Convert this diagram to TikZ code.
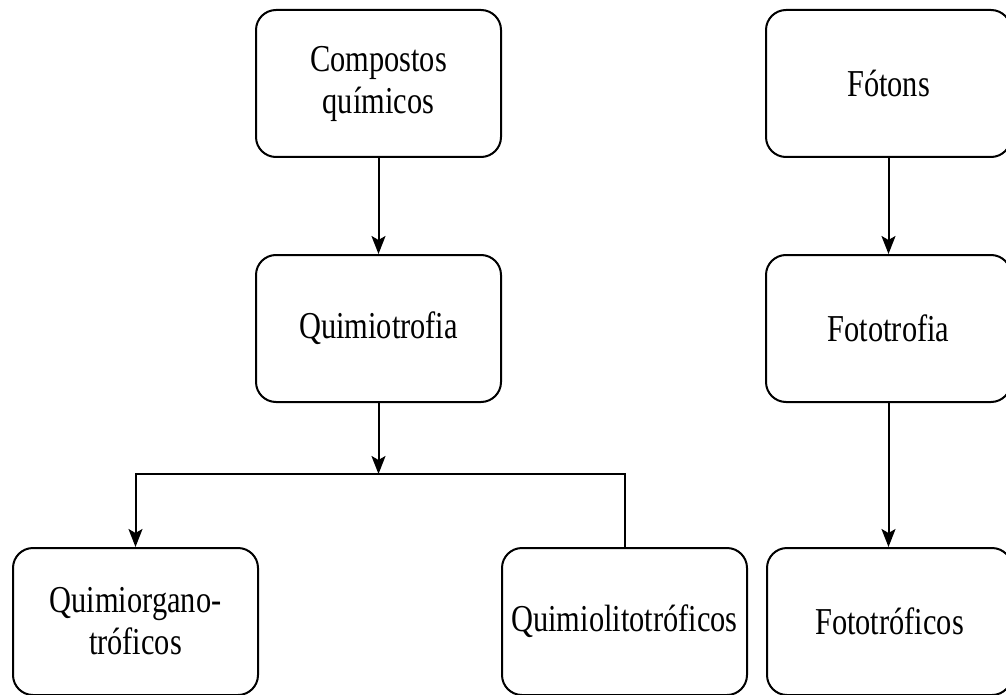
\documentclass[tikz,border=0pt]{standalone}
\usepackage{fontspec}
\setmainfont[FakeStretch=0.8]{Liberation Serif}
\usetikzlibrary{arrows.meta}
\begin{document}
\begin{tikzpicture}[x=1pt,y=-1pt,
  box/.style={draw, line width=2pt, rounded corners=20pt,
    minimum width=245pt, minimum height=147pt, inner sep=0pt,
    align=center, font=\fontsize{38}{42}\selectfont},
  link/.style={line width=2pt},
  arr/.style={link, -{Stealth[length=18pt,width=14pt,inset=4pt]}}]
  \useasboundingbox (0,0) rectangle (1006,695);
  % chemical branch
  \node[box] (comp)   at (378.5,83.5)  {Compostos\\químicos};
  \node[box] (quimio) at (378.5,328.5) {Quimiotrofia};
  \node[box] (qorg)   at (135.5,621.5) {Quimiorgano-\\tróficos};
  \node[box] (qlito)  at (624.5,621.5) {Quimiolitotróficos};
  % light branch
  \node[box] (foton)  at (888.5,83.5)  {Fótons};
  \node[box] (foto)   at (888.5,328.5) {Fototrofia};
  \node[box] (fototr) at (889.5,621.5) {Fototróficos};
  \coordinate (split) at (378.5,474);
  % connectors
  \draw[arr] (comp.south) -- (quimio.north);
  \draw[arr] (quimio.south) -- (split);
  \draw[arr] (qlito.north) -- (qlito.north |- split) -- (qorg.north |- split) -- (qorg.north);
  \draw[arr] (foton.south) -- (foto.north);
  \draw[arr] (foto.south) -- (foto.south |- fototr.north);
\end{tikzpicture}
\end{document}
